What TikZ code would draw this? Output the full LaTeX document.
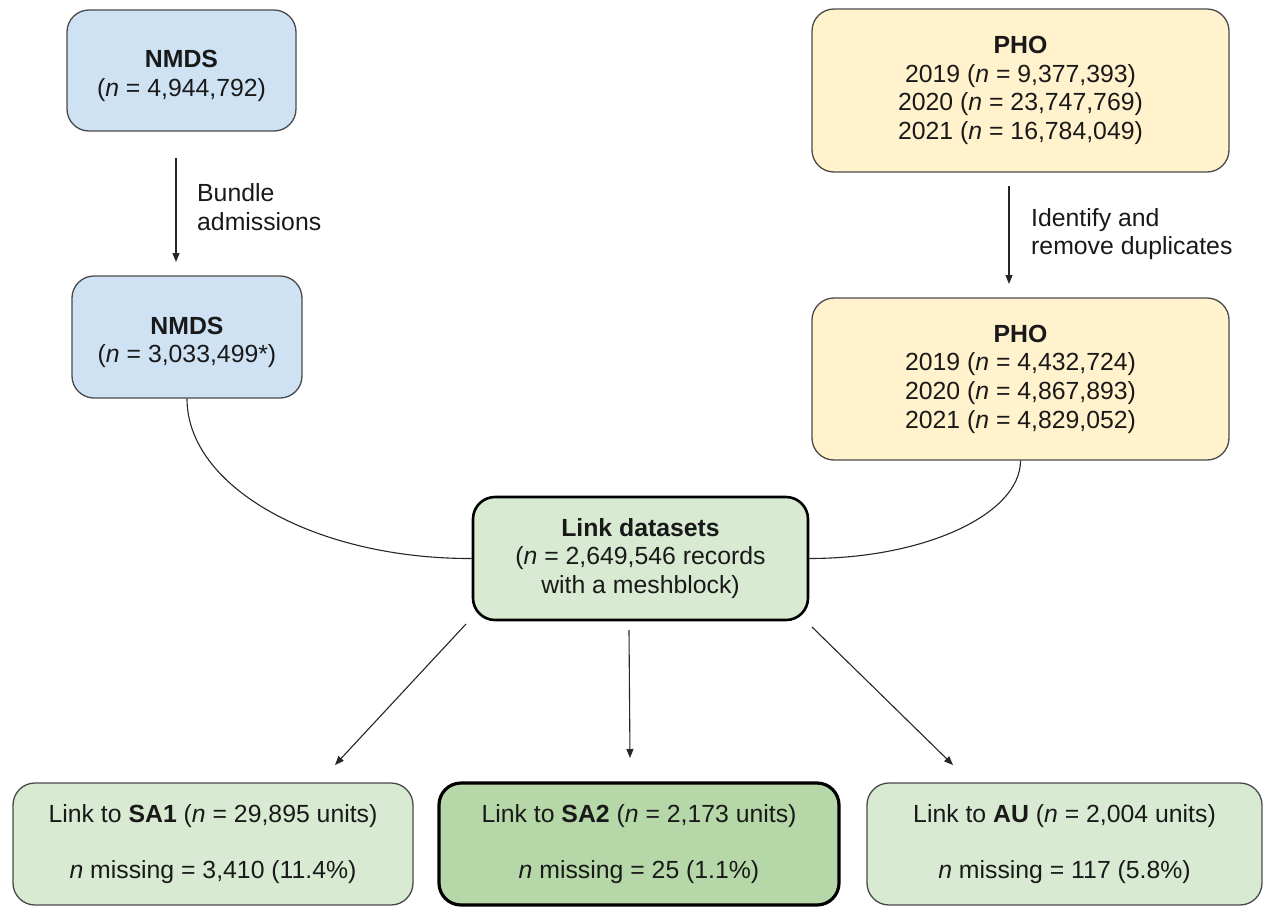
\documentclass[tikz,border=0pt]{standalone}
\usepackage{fontspec}
\setmainfont{Liberation Sans}
\usetikzlibrary{arrows.meta}
\definecolor{bluefill}{HTML}{CFE2F3}
\definecolor{yellowfill}{HTML}{FFF2CC}
\definecolor{greenfill}{HTML}{D9EAD3}
\definecolor{darkgreenfill}{HTML}{B6D7A8}
\definecolor{edgegray}{HTML}{4A4A4A}
\newcommand{\lowerstrut}{\rule{0pt}{28pt}}
\begin{document}
\begin{tikzpicture}[x=1pt,y=-1pt,
  every node/.style={font=\fontsize{24.8}{28.6}\selectfont, text=black!90, inner sep=0pt},
  box/.style={draw=edgegray, line width=1.3pt, rounded corners=22pt, align=center},
  bluebox/.style={box, fill=bluefill},
  yellowbox/.style={box, fill=yellowfill},
  greenbox/.style={box, fill=greenfill},
  linkbox/.style={box, fill=greenfill, draw=black, line width=2.6pt},
  sa2box/.style={box, fill=darkgreenfill, draw=black, line width=3.2pt},
  lbl/.style={align=left, anchor=west},
  conn/.style={draw=black!85, line width=1.1pt},
  arr/.style={conn, -{Triangle[length=9pt,width=7pt]}}
]
\useasboundingbox (0,0) rectangle (1267,906);

\node[bluebox, minimum width=229pt, minimum height=121pt] (nmds1) at (181.5,70.5)
  {\lowerstrut\textbf{NMDS}\\(\textit{n} = 4,944,792)};
\node[bluebox, minimum width=230pt, minimum height=122pt] (nmds2) at (187,337)
  {\lowerstrut\textbf{NMDS}\\(\textit{n} = 3,033,499*)};
\node[yellowbox, minimum width=417pt, minimum height=163pt] (pho1) at (1020.5,90.5)
  {\textbf{PHO}\\2019 (\textit{n} = 9,377,393)\\2020 (\textit{n} = 23,747,769)\\2021 (\textit{n} = 16,784,049)};
\node[yellowbox, minimum width=417pt, minimum height=162pt] (pho2) at (1020.5,379)
  {\textbf{PHO}\\2019 (\textit{n} = 4,432,724)\\2020 (\textit{n} = 4,867,893)\\2021 (\textit{n} = 4,829,052)};
\node[linkbox, minimum width=335pt, minimum height=123pt] (link) at (640.5,558.5)
  {\textbf{Link datasets}\\(\textit{n} = 2,649,546 records\\with a meshblock)};
\node[greenbox, minimum width=400pt, minimum height=122pt] (sa1) at (213,844)
  {Link to \textbf{SA1} (\textit{n} = 29,895 units)\\[27pt]\textit{n} missing = 3,410 (11.4\%)};
\node[sa2box, minimum width=400pt, minimum height=122pt] (sa2) at (639,844)
  {Link to \textbf{SA2} (\textit{n} = 2,173 units)\\[27pt]\textit{n} missing = 25 (1.1\%)};
\node[greenbox, minimum width=395pt, minimum height=122pt] (au) at (1064.5,844)
  {Link to \textbf{AU} (\textit{n} = 2,004 units)\\[27pt]\textit{n} missing = 117 (5.8\%)};

% free arrow ends
\coordinate (b1s) at (176,158);
\coordinate (b1e) at (176,262);
\coordinate (p1s) at (1009,186);
\coordinate (p1e) at (1009,284);
\coordinate (l1s) at (466,624);
\coordinate (l1e) at (335,765);
\coordinate (l2s) at (629,630);
\coordinate (l2e) at (630,758);
\coordinate (l3s) at (812,627);
\coordinate (l3e) at (953,765);

\draw[arr] (b1s) -- (b1e);
\draw[arr] (p1s) -- (p1e);
\draw[arr] (l1s) -- (l1e);
\draw[arr] (l2s) -- (l2e);
\draw[arr] (l3s) -- (l3e);

\node[lbl] (lblb) at (197,207) {Bundle\\admissions};
\node[lbl] (lblp) at (1031,234) {Identify and\\remove duplicates};

\draw[conn] (nmds2.south) .. controls (187,487) and (315,559) .. (link.west);
\draw[conn] (pho2.south) .. controls (1020.5,514) and (925,558.5) .. (link.east);
\end{tikzpicture}
\end{document}
